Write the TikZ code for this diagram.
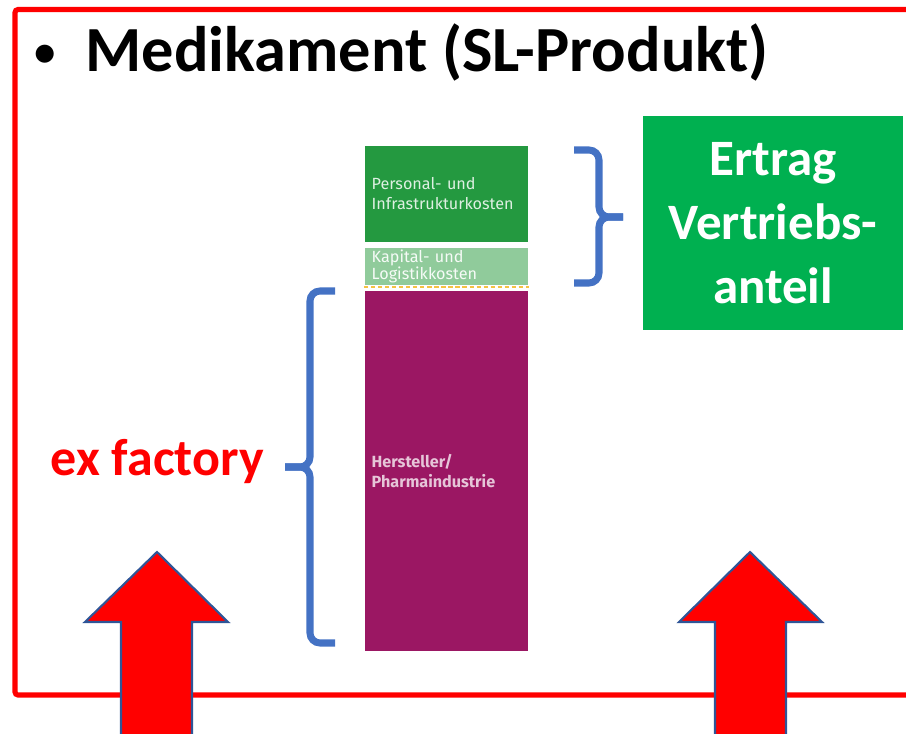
\documentclass[tikz,border=0pt]{standalone}
\usepackage{fontspec}
\setmainfont{Carlito}
\newfontfamily\barfont{Fira Sans}
\usetikzlibrary{positioning}

\definecolor{framered}{RGB}{255,0,0}
\definecolor{persgreen}{RGB}{36,153,64}
\definecolor{kapgreen}{RGB}{144,203,155}
\definecolor{herstpurple}{RGB}{155,23,99}
\definecolor{bracebl}{RGB}{68,114,196}
\definecolor{arrowedge}{RGB}{47,85,151}
\definecolor{ertraggreen}{RGB}{0,176,80}
\definecolor{dashyellow}{RGB}{245,194,66}

\tikzstyle{costbox}=[rectangle,minimum width=1.63cm,text width=1.49cm,inner xsep=0.07cm,inner ysep=0pt,align=left,anchor=north west,font=\barfont\fontsize{4.6}{5.7}\selectfont]
\tikzstyle{ertragbox}=[rectangle,fill=ertraggreen,minimum width=2.6cm,minimum height=2.14cm,text width=2.2cm,align=center,text=white,font=\bfseries\fontsize{14.5}{18.2}\selectfont]
\tikzstyle{brace}=[draw=bracebl,line width=2pt,rounded corners=0.1cm]
\tikzstyle{bigarrow}=[draw=arrowedge,fill=framered,line width=0.6pt,line join=miter]

\begin{document}
\begin{tikzpicture}[x=0.01cm,y=-0.01cm]
		\useasboundingbox (0,0) rectangle (906,733);
		\clip (0,0) rectangle (906,733);
		
		% frame and title
		\draw[framered,line width=1.45pt,rounded corners=0.03cm] (15,695) rectangle (960,9.5);
		\node (dot) [anchor=base,inner sep=0pt,font=\fontsize{14.5}{18}\selectfont] at (45,68) {\textbullet};
		\node (title) [anchor=base west,inner sep=0pt,font=\bfseries\fontsize{18.3}{20}\selectfont] at (85,71) {Medikament (SL-Produkt)};
		
		% cost bar
		\node (pers) [costbox,fill=persgreen,minimum height=0.96cm,text=white!85!persgreen] at (364,145) {Personal- und\\Infrastrukturkosten};
		\node (kap) [costbox,fill=kapgreen,minimum height=0.37cm,text=white!92!kapgreen,below=0.05cm of pers,font=\barfont\fontsize{4.6}{4.9}\selectfont] {Kapital- und\\Logistikkosten};
		\node (herst) [costbox,fill=herstpurple,minimum height=3.6cm,text=white!75!herstpurple,below=0.04cm of kap,font=\barfont\bfseries\fontsize{4.6}{5.7}\selectfont] {Hersteller/\\Pharmaindustrie};
		\draw[dashyellow,line width=0.6pt,dash pattern=on 1.2pt off 0.8pt] ([yshift=-0.015cm]kap.south west) -- ([yshift=-0.015cm]kap.south east);
		
		% right side
		\node (ertrag) [ertragbox] at (773,223) {Ertrag\\Vertriebs-\\anteil};
		\draw[brace] (574,150) -- (599,150) -- (599,217) -- (623,217);
		\draw[brace] (574,283) -- (599,283) -- (599,217) -- (623,217);
		
		% left side
		\node (exf) [anchor=base west,inner sep=0pt,text=framered,font=\bfseries\fontsize{14.8}{18}\selectfont] at (50,475) {ex factory};
		\draw[brace] (335,291) -- (310,291) -- (310,467) -- (285,467);
		\draw[brace] (335,643) -- (310,643) -- (310,467) -- (285,467);
		
		% arrows
		\draw[bigarrow] (121,745) -- (121,622) -- (85,622) -- (157,552) -- (228,622) -- (192,622) -- (192,745) -- cycle;
		\draw[bigarrow] (715,745) -- (715,622) -- (679,622) -- (750,552) -- (822,622) -- (786,622) -- (786,745) -- cycle;
		
\end{tikzpicture}
\end{document}
